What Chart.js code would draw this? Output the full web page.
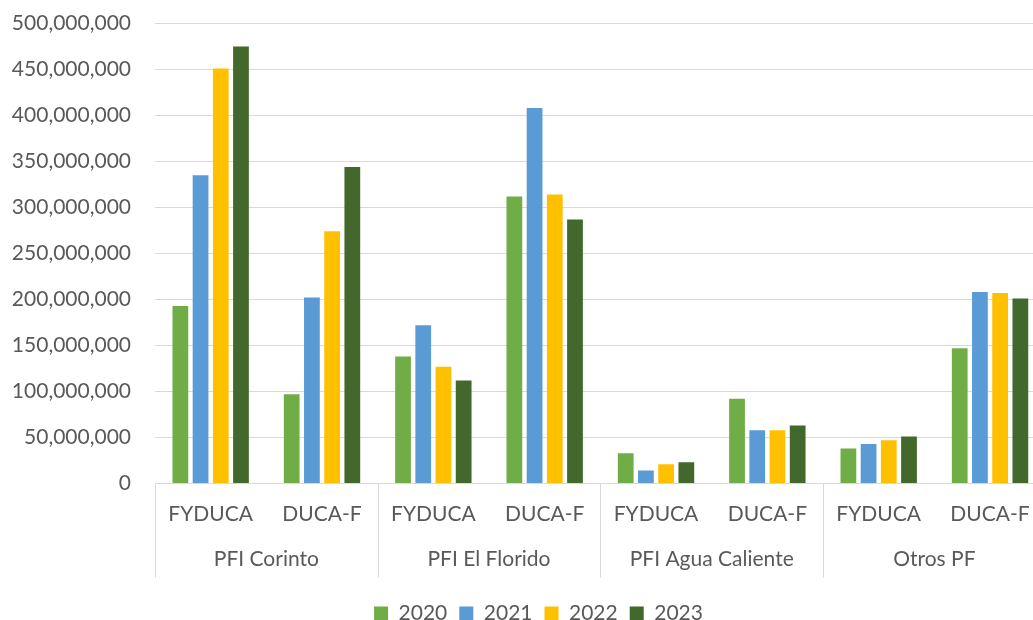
<!DOCTYPE html>
<html>
<head>
<meta charset="utf-8">
<script src="https://cdn.jsdelivr.net/npm/chart.js@4.4.0/dist/chart.umd.min.js"></script>
<style>
  html, body { margin: 0; padding: 0; background: #fff; }
  #wrap { width: 1033px; height: 620px; overflow: hidden; position: relative; }
</style>
</head>
<body>
<div id="wrap"><canvas id="myChart" width="1080" height="634" style="width:1080px;height:634px"></canvas></div>
<script>
// categories (two levels)
const subLabels = ['FYDUCA', 'DUCA-F', 'FYDUCA', 'DUCA-F', 'FYDUCA', 'DUCA-F', 'FYDUCA', 'DUCA-F'];
const groups = ['PFI Corinto', 'PFI El Florido', 'PFI Agua Caliente', 'Otros PF'];

// series
const years = ['2020', '2021', '2022', '2023'];
const v2020 = [193000000, 97000000, 138000000, 312000000, 33000000, 92000000, 38000000, 147000000];
const v2021 = [335000000, 202000000, 172000000, 408000000, 14000000, 58000000, 43000000, 208000000];
const v2022 = [451000000, 274000000, 127000000, 314000000, 21000000, 58000000, 47000000, 207000000];
const v2023 = [475000000, 344000000, 112000000, 287000000, 23000000, 63000000, 51000000, 201000000];
const colors = ['#70AD47', '#5B9BD5', '#FFC000', '#43682B'];

// y axis ticks
const yMin = 0;
const yMax = 500000000;
const yStep = 50000000;

Chart.defaults.font.family = 'Lato';
Chart.defaults.font.size = 21;
Chart.defaults.color = '#595959';

// draws the outer category labels and the separators under the axis
const groupLabels = {
    id: 'groupLabels',
    afterDraw(chart) {
        const ctx = chart.ctx;
        const x = chart.scales.x;
        const area = chart.chartArea;
        const half = (x.getPixelForValue(1) - x.getPixelForValue(0)) / 2;
        ctx.save();
        ctx.strokeStyle = '#d9d9d9';
        ctx.lineWidth = 1;
        for (let i = 0; i <= groups.length; i++) {
            const px = Math.round(x.getPixelForValue(i * 2) - half) + 0.5;
            ctx.beginPath();
            ctx.moveTo(px, area.bottom);
            ctx.lineTo(px, area.bottom + 94);
            ctx.stroke();
        }
        ctx.fillStyle = '#595959';
        ctx.font = '21px Lato';
        ctx.textAlign = 'center';
        ctx.textBaseline = 'middle';
        groups.forEach(function (g, i) {
            const cx = (x.getPixelForValue(i * 2) + x.getPixelForValue(i * 2 + 1)) / 2;
            ctx.fillText(g, cx, area.bottom + 76);
        });
        ctx.restore();
    }
};

const series = [v2020, v2021, v2022, v2023];

new Chart(document.getElementById('myChart').getContext('2d'), {
    type: 'bar',
    data: {
        labels: subLabels,
        datasets: years.map(function (y, i) {
            return {
                label: y,
                data: series[i],
                backgroundColor: colors[i],
                borderWidth: 0,
                categoryPercentage: 0.726,
                barPercentage: 0.78
            };
        })
    },
    options: {
        responsive: false,
        animation: false,
        layout: { padding: { left: 31.3, right: 34.3, top: 23.4, bottom: 0 } },
        plugins: {
            legend: {
                position: 'bottom',
                labels: { boxWidth: 14, boxHeight: 14, padding: 12, color: '#595959' }
            },
            tooltip: { enabled: false }
        },
        scales: {
            x: {
                grid: { display: false, drawTicks: false },
                border: { display: true, color: '#d9d9d9' },
                ticks: { padding: 18, autoSkip: false, maxRotation: 0 },
                afterFit: function (s) { s.height = 107.5; }
            },
            y: {
                min: yMin,
                max: yMax,
                grid: { color: '#d9d9d9', drawTicks: false },
                border: { display: false },
                ticks: {
                    stepSize: yStep,
                    padding: 24,
                    callback: function (v) { return v.toLocaleString('en-US'); }
                },
                afterFit: function (s) {
                    s.width = 123.7;
                    s.paddingTop = 0;
                    s.paddingBottom = 0;
                    // let the tick labels run past the narrow axis box
                    s._computeLabelArea = function () { return null; };
                }
            }
        }
    },
    plugins: [groupLabels]
});
</script>
</body>
</html>
